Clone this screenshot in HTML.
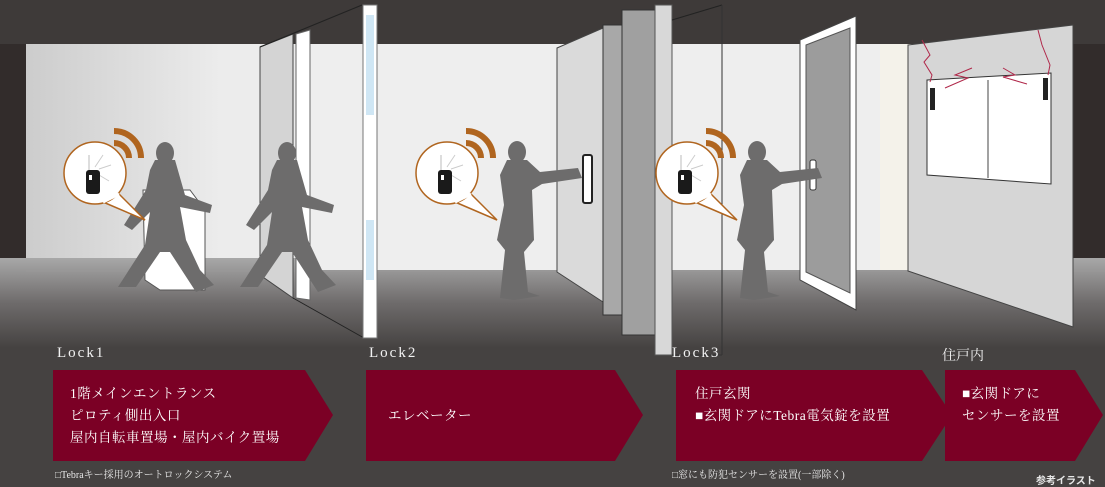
<!DOCTYPE html>
<html><head><meta charset="utf-8"><style>
html,body{margin:0;padding:0;background:#454241;}
body{width:1105px;height:487px;overflow:hidden;position:relative;font-family:"Liberation Serif","Noto Serif CJK SC",serif;}
svg{position:absolute;left:0;top:0;}
.lbl{position:absolute;color:#f2f2f2;font-size:15px;letter-spacing:2px;}
.txt{position:absolute;color:#fff;font-size:13.5px;line-height:22px;letter-spacing:0.5px;}
.note{position:absolute;color:#e8e8e8;font-size:10px;}
</style></head><body>
<svg width="1105" height="487" viewBox="0 0 1105 487">
<defs>
<linearGradient id="floor" x1="0" y1="0" x2="0" y2="1">
<stop offset="0" stop-color="#a8a8a8"/><stop offset="0.5" stop-color="#6e6b6b"/><stop offset="1" stop-color="#454241"/></linearGradient>
<linearGradient id="wallL" x1="0" y1="0" x2="1" y2="0">
<stop offset="0" stop-color="#c8c8c8"/><stop offset="0.2" stop-color="#ececec"/><stop offset="1" stop-color="#ededed"/></linearGradient>
<g id="walker"><ellipse cx="165" cy="153" rx="9" ry="11"/>
<polygon points="155,160 175,160 185,195 212,205 210,213 180,207 186,240 200,270 214,285 196,292 170,252 160,252 136,287 118,287 145,245 150,212 132,230 124,225 146,190 150,170"/></g>
<g id="stander"><ellipse cx="517" cy="152" rx="9" ry="11"/>
<polygon points="507,160 527,160 540,172 578,168 582,178 542,184 532,190 534,240 524,252 528,292 540,296 514,300 500,298 505,250 497,240 504,205 500,175"/></g>
<g id="bubble">
<path d="M8,29 L50,47 L24,21" fill="#fff" stroke="#b0651f" stroke-width="1.5"/>
<circle cx="0" cy="0" r="31" fill="#fff" stroke="#b0651f" stroke-width="1.5"/>
<path d="M8,29 L24,21" stroke="#fff" stroke-width="3"/>
<path d="M19,-42 A27,27 0 0 1 46,-15" fill="none" stroke="#b0651f" stroke-width="6"/>
<path d="M19,-30 A15,15 0 0 1 34,-15" fill="none" stroke="#b0651f" stroke-width="6"/>
<line x1="-6" y1="-18" x2="-6" y2="-2" stroke="#bbb"/><line x1="0" y1="-6" x2="8" y2="-18" stroke="#ccc"/><line x1="4" y1="-4" x2="16" y2="-8" stroke="#ccc"/><line x1="4" y1="2" x2="14" y2="8" stroke="#ccc"/>
<rect x="-9" y="-3" width="14" height="24" rx="3" fill="#1a1a1a"/><rect x="-6" y="2" width="3" height="5" fill="#fff"/>
</g>
</defs>
<rect x="0" y="0" width="1105" height="44" fill="#3e3a39"/>
<rect x="0" y="44" width="1105" height="214" fill="url(#wallL)"/>
<rect x="0" y="44" width="26" height="228" fill="#322c2b"/>
<rect x="1073" y="44" width="32" height="228" fill="#322c2b"/>
<rect x="0" y="258" width="1105" height="90" fill="url(#floor)"/>
<line x1="26" y1="271" x2="1105" y2="271" stroke="#999" stroke-width="1"/>
<rect x="310" y="44" width="600" height="226" fill="#eeeeee"/>
<rect x="880" y="44" width="30" height="226" fill="#f4f2ea"/>
<polygon points="143,190 190,190 205,210 205,290 160,290 145,280" fill="#fff" stroke="#555"/>
<polygon points="260,47 293,34 293,298 260,275" fill="#d4d4d4" stroke="#444"/>
<polygon points="296,34 310,30 310,300 296,298" fill="#fff" stroke="#666"/>
<line x1="260" y1="47" x2="362" y2="5" stroke="#222"/><line x1="293" y1="298" x2="364" y2="338" stroke="#222"/>
<rect x="363" y="5" width="14" height="333" fill="#fff" stroke="#777"/>
<rect x="366" y="15" width="8" height="100" fill="#cfe6f4"/><rect x="366" y="220" width="8" height="60" fill="#cfe6f4"/>
<polygon points="557,48 603,28 603,302 557,272" fill="#dadada" stroke="#444"/>
<rect x="583" y="155" width="9" height="48" rx="2" fill="#fff" stroke="#222" stroke-width="2"/>
<rect x="603" y="25" width="19" height="290" fill="#a8a8a8" stroke="#333"/>
<rect x="622" y="10" width="33" height="325" fill="#a0a0a0" stroke="#333"/>
<rect x="655" y="5" width="17" height="350" fill="#d8d8d8" stroke="#555"/>
<line x1="672" y1="20" x2="722" y2="5" stroke="#222"/><line x1="722" y1="5" x2="722" y2="355" stroke="#333"/><line x1="672" y1="355" x2="722" y2="355" stroke="#333"/>
<polygon points="800,40 856,16 856,310 800,280" fill="#fff" stroke="#444"/>
<polygon points="806,45 850,28 850,293 806,272" fill="#9c9c9c" stroke="#555"/>
<rect x="810" y="160" width="6" height="30" rx="2" fill="#fff" stroke="#333"/>
<polygon points="908,45 1073,25 1073,327 908,271" fill="#d6d6d6" stroke="#444"/>
<polygon points="927,80 1051,73 1051,184 927,175" fill="#fff" stroke="#333"/>
<line x1="988" y1="80" x2="988" y2="178" stroke="#444"/>
<rect x="930" y="88" width="5" height="22" fill="#222"/><rect x="1043" y="78" width="5" height="22" fill="#222"/>
<polyline points="922,40 930,55 924,62 932,75 930,82" fill="none" stroke="#b0284a"/>
<polyline points="1038,30 1042,45 1046,55 1050,65 1048,75" fill="none" stroke="#b0284a"/>
<polyline points="972,68 955,75 968,78 945,88" fill="none" stroke="#b0284a"/>
<polyline points="1003,68 1015,75 1003,77 1027,84" fill="none" stroke="#b0284a"/>
<g fill="#6d6c6c"><use href="#walker"/><use href="#walker" transform="translate(122,0)"/>
<use href="#stander"/><use href="#stander" transform="translate(240,0)"/></g>
<use href="#bubble" transform="translate(95,173)"/>
<use href="#bubble" transform="translate(447,173)"/>
<use href="#bubble" transform="translate(687,173)"/>
<polygon points="53,370 305,370 333,415 305,461 53,461" fill="#7b0025"/>
<polygon points="366,370 615,370 643,415 615,461 366,461" fill="#7b0025"/>
<polygon points="676,370 922,370 952,415 922,461 676,461" fill="#7b0025"/>
<polygon points="945,370 1075,370 1103,415 1075,461 945,461" fill="#7b0025"/>
</svg>
<div class="lbl" style="left:57px;top:345px;">Lock1</div>
<div class="lbl" style="left:369px;top:345px;">Lock2</div>
<div class="lbl" style="left:672px;top:345px;">Lock3</div>
<div class="lbl" style="left:942px;top:345px;letter-spacing:0;font-size:14px;">住戸内</div>
<div class="txt" style="left:70px;top:383px;">1階メインエントランス<br>ピロティ側出入口<br>屋内自転車置場・屋内バイク置場</div>
<div class="txt" style="left:388px;top:405px;">エレベーター</div>
<div class="txt" style="left:695px;top:383px;">住戸玄関<br>■玄関ドアにTebra電気錠を設置</div>
<div class="txt" style="left:962px;top:383px;">■玄関ドアに<br>センサーを設置</div>
<div class="note" style="left:55px;top:466px;">□Tebraキー採用のオートロックシステム</div>
<div class="note" style="left:672px;top:466px;">□窓にも防犯センサーを設置(一部除く)</div>
<div class="note" style="left:1036px;top:472px;font-family:'Liberation Sans','Noto Sans CJK JP',sans-serif;font-weight:bold;">参考イラスト</div>
</body></html>
